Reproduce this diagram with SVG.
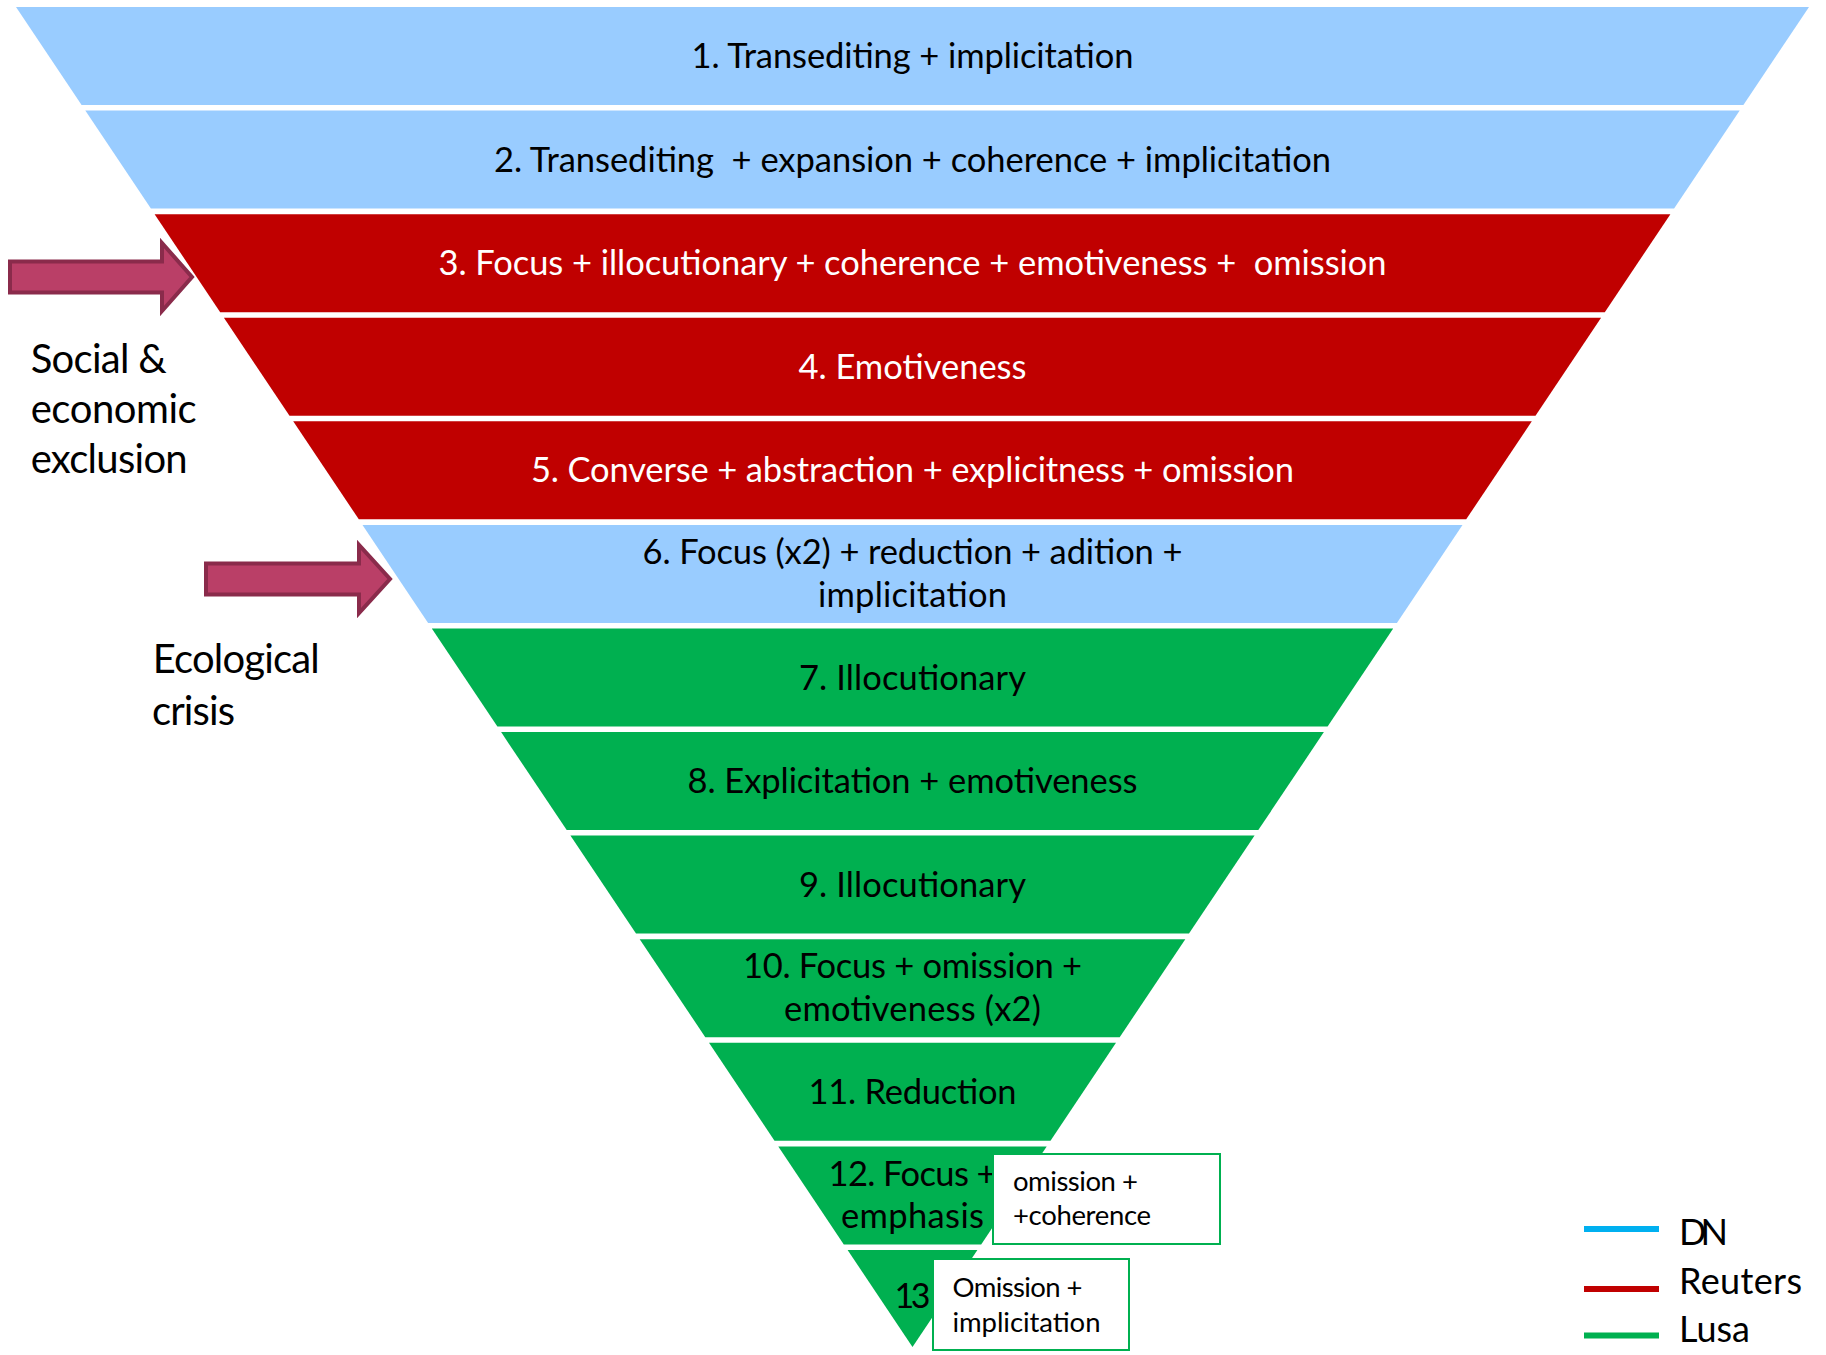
<svg xmlns="http://www.w3.org/2000/svg" width="1826" height="1355" viewBox="0 0 1826 1355">
  <style>
    .dn { fill: #99CCFF; }
    .rt { fill: #C00000; }
    .ls { fill: #00B050; }
    .t { font-family: Lato, "Open Sans", "Liberation Sans", sans-serif; font-size: 34.5px; text-anchor: middle; }
    .dark { fill: #000000; }
    .light { fill: #FFFFFF; }
    .side { font-family: Lato, "Open Sans", "Liberation Sans", sans-serif; font-size: 40px; fill: #000000; }
    .note { font-family: Lato, "Open Sans", "Liberation Sans", sans-serif; font-size: 27.5px; fill: #000000; }
    .key { font-family: Lato, "Open Sans", "Liberation Sans", sans-serif; font-size: 36px; fill: #000000; }
    .box { fill: #FFFFFF; stroke: #00B050; stroke-width: 2; }
    .arrow { fill: #BA3F67; stroke: #8A2B4B; stroke-width: 4; stroke-linejoin: miter; }
    .keyline { stroke-width: 6; }
  </style>

  <rect width="1826" height="1355" fill="#FFFFFF"/>

  <!-- inverted pyramid, one slice per level -->
  <g id="level1">
    <polygon class="dn" points="16,7 1809,7 1743.4,105 81.6,105"/>
    <text class="t dark" x="912.5" y="68" textLength="442">1. Transediting + implicitation</text>
  </g>
  <g id="level2">
    <polygon class="dn" points="85.3,110.6 1739.7,110.6 1674.1,208.6 150.9,208.6"/>
    <text class="t dark" x="912.5" y="171.6" textLength="837" xml:space="preserve">2. Transediting  + expansion + coherence + implicitation</text>
  </g>
  <g id="level3">
    <polygon class="rt" points="154.6,214.2 1670.4,214.2 1604.8,312.2 220.2,312.2"/>
    <text class="t light" x="912.5" y="275.2" textLength="948" xml:space="preserve">3. Focus + illocutionary + coherence + emotiveness +  omission</text>
  </g>
  <g id="level4">
    <polygon class="rt" points="223.9,317.7 1601.1,317.7 1535.5,415.7 289.5,415.7"/>
    <text class="t light" x="912.5" y="378.7" textLength="228">4. Emotiveness</text>
  </g>
  <g id="level5">
    <polygon class="rt" points="293.2,421.3 1531.8,421.3 1466.2,519.3 358.8,519.3"/>
    <text class="t light" x="912.5" y="482.3" textLength="763">5. Converse + abstraction + explicitness + omission</text>
  </g>
  <g id="level6">
    <polygon class="dn" points="362.5,524.9 1462.5,524.9 1396.9,622.9 428.1,622.9"/>
    <text class="t dark" x="912.5" y="564" textLength="540">6. Focus (x2) + reduction + adition +</text>
    <text class="t dark" x="912.5" y="607" textLength="189">implicitation</text>
  </g>
  <g id="level7">
    <polygon class="ls" points="431.8,628.5 1393.2,628.5 1327.6,726.5 497.4,726.5"/>
    <text class="t dark" x="912.5" y="689.5" textLength="227">7. Illocutionary</text>
  </g>
  <g id="level8">
    <polygon class="ls" points="501.1,732.1 1323.9,732.1 1258.3,830.1 566.7,830.1"/>
    <text class="t dark" x="912.5" y="793.1" textLength="450">8. Explicitation + emotiveness</text>
  </g>
  <g id="level9">
    <polygon class="ls" points="570.4,835.6 1254.6,835.6 1189,933.6 636,933.6"/>
    <text class="t dark" x="912.5" y="896.6" textLength="227">9. Illocutionary</text>
  </g>
  <g id="level10">
    <polygon class="ls" points="639.7,939.2 1185.3,939.2 1119.7,1037.2 705.3,1037.2"/>
    <text class="t dark" x="912.5" y="978" textLength="339">10. Focus + omission +</text>
    <text class="t dark" x="912.5" y="1021" textLength="257">emotiveness (x2)</text>
  </g>
  <g id="level11">
    <polygon class="ls" points="709,1042.8 1116,1042.8 1050.5,1140.8 774.5,1140.8"/>
    <text class="t dark" x="912.5" y="1103.8" textLength="208">11. Reduction</text>
  </g>
  <g id="level12">
    <polygon class="ls" points="778.3,1146.4 1046.7,1146.4 981.2,1244.4 843.8,1244.4"/>
    <text class="t dark" x="912.5" y="1186" textLength="168">12. Focus +</text>
    <text class="t dark" x="912.5" y="1228" textLength="143">emphasis</text>
  </g>
  <g id="level13">
    <polygon class="ls" points="847.6,1250 977.4,1250 912.5,1347"/>
    <text class="t dark" x="912.5" y="1308" style="font-size:34px" textLength="36">13</text>
  </g>

  <!-- side notes attached to the two lowest levels -->
  <g id="note12">
    <rect class="box" x="993" y="1154" width="227" height="90"/>
    <text class="note" x="1013" y="1191" textLength="125">omission +</text>
    <text class="note" x="1013" y="1225" textLength="138">+coherence</text>
  </g>
  <g id="note13">
    <rect class="box" x="933" y="1259" width="196" height="91"/>
    <text class="note" x="952.5" y="1297" textLength="130">Omission +</text>
    <text class="note" x="952.5" y="1332" textLength="148">implicitation</text>
  </g>

  <!-- theme labels -->
  <g id="label-social">
    <text class="side" x="30.7" y="372.7" textLength="136">Social &amp;</text>
    <text class="side" x="30.7" y="422.7" textLength="166">economic</text>
    <text class="side" x="30.7" y="473.3" textLength="157">exclusion</text>
  </g>
  <g id="label-ecological">
    <text class="side" x="152.7" y="673.3" textLength="167">Ecological</text>
    <text class="side" x="152" y="725" textLength="83">crisis</text>
  </g>

  <!-- block arrows pointing at levels 3 and 6 -->
  <g id="arrows">
    <path class="arrow" d="M10,261.5 H162 V243 L192,277 L162,311 V292.5 H10 Z"/>
    <path class="arrow" d="M206,563.5 H359 V545 L390,579 L359,613 V594.5 H206 Z"/>
  </g>

  <!-- legend -->
  <g id="legend">
    <line class="keyline" x1="1584" y1="1229" x2="1659" y2="1229" stroke="#00B0F0"/>
    <line class="keyline" x1="1584" y1="1289" x2="1659" y2="1289" stroke="#C00000"/>
    <line class="keyline" x1="1584" y1="1335.5" x2="1659" y2="1335.5" stroke="#00B050"/>
    <text class="key" x="1679" y="1245" textLength="49">DN</text>
    <text class="key" x="1679" y="1293.5" textLength="123">Reuters</text>
    <text class="key" x="1679" y="1342" textLength="71">Lusa</text>
  </g>
</svg>
